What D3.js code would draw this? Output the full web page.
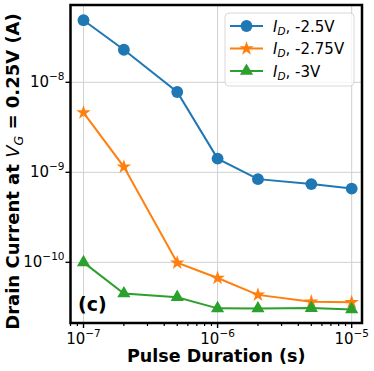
<!DOCTYPE html>
<html>
<head>
<meta charset="utf-8">
<script src="https://cdn.jsdelivr.net/npm/d3@7"></script>
<style>
  body { margin: 0; background: #fff; }
  text { font-family: "DejaVu Sans", sans-serif; }
</style>
</head>
<body>
<svg id="chart" width="374" height="371"></svg>
<script>
  // pulse durations (s)
  var durations = [1e-7, 2e-7, 5e-7, 1e-6, 2e-6, 5e-6, 1e-5];
  // drain current (A) for each gate pulse amplitude
  var id25 = [4.9e-8, 2.3e-8, 7.8e-9, 1.42e-9, 8.4e-10, 7.4e-10, 6.6e-10];
  var id275 = [4.6e-9, 1.15e-9, 9.9e-11, 6.7e-11, 4.35e-11, 3.65e-11, 3.6e-11];
  var id3 = [1.0e-10, 4.5e-11, 4.1e-11, 3.08e-11, 3.07e-11, 3.1e-11, 3.0e-11];
  var seriesNames = ['-2.5V', '-2.75V', '-3V'];
  var xTickExps = [-7, -6, -5];
  var yTickExps = [-8, -9, -10];

(function () {
  'use strict';

  var svg = d3.select('#chart');
  var left = 70.5, right = 362, top = 5, bottom = 323;

  var x = d3.scaleLog()
    .domain([Math.pow(10, -7.097), Math.pow(10, -4.923)])
    .range([left, right]);
  var y = d3.scaleLog()
    .domain([Math.pow(10, -10.674), Math.pow(10, -7.141)])
    .range([bottom, top]);

  var colors = ['#1f77b4', '#ff7f0e', '#2ca02c'];
  var series = [id25, id275, id3];
  var symbols = [
    d3.symbol().type(d3.symbolCircle).size(110),
    d3.symbol().type(d3.symbolStar).size(65),
    d3.symbol().type(d3.symbolTriangle).size(75)
  ];

  // grid
  var grid = svg.append('g');
  xTickExps.forEach(function (e) {
    grid.append('line')
      .attr('x1', x(Math.pow(10, e))).attr('x2', x(Math.pow(10, e)))
      .attr('y1', top).attr('y2', bottom)
      .attr('stroke', '#d0d0d0').attr('stroke-width', 1);
  });
  yTickExps.forEach(function (e) {
    grid.append('line')
      .attr('x1', left).attr('x2', right)
      .attr('y1', y(Math.pow(10, e))).attr('y2', y(Math.pow(10, e)))
      .attr('stroke', '#d0d0d0').attr('stroke-width', 1);
  });

  // x minor ticks
  var minor = [];
  [-8, -7, -6, -5].forEach(function (e) {
    for (var k = 2; k <= 9; k++) minor.push(k * Math.pow(10, e));
  });
  minor = minor.filter(function (v) { return v >= x.domain()[0] && v <= x.domain()[1]; });
  svg.append('g').selectAll('line').data(minor).enter().append('line')
    .attr('x1', function (d) { return x(d); }).attr('x2', function (d) { return x(d); })
    .attr('y1', bottom).attr('y2', bottom + 3)
    .attr('stroke', '#000').attr('stroke-width', 1.2);

  // major ticks + labels
  xTickExps.forEach(function (e) {
    var px = x(Math.pow(10, e));
    svg.append('line').attr('x1', px).attr('x2', px).attr('y1', bottom).attr('y2', bottom + 5)
      .attr('stroke', '#000').attr('stroke-width', 1.4);
    var t = svg.append('text').attr('x', px).attr('y', bottom + 21)
      .attr('text-anchor', 'middle').attr('font-size', 15);
    t.append('tspan').text('10');
    t.append('tspan').attr('dy', -7).attr('font-size', 10.5).text('\u2212' + (-e));
  });
  yTickExps.forEach(function (e) {
    var py = y(Math.pow(10, e));
    svg.append('line').attr('x1', left - 5).attr('x2', left).attr('y1', py).attr('y2', py)
      .attr('stroke', '#000').attr('stroke-width', 1.4);
    var t = svg.append('text').attr('x', left - 6).attr('y', py + 5)
      .attr('text-anchor', 'end').attr('font-size', 15);
    t.append('tspan').text('10');
    t.append('tspan').attr('dy', -7).attr('font-size', 10.5).text('\u2212' + (-e));
  });

  // lines and markers
  var line = d3.line()
    .x(function (d, i) { return x(durations[i]); })
    .y(function (d) { return y(d); });
  series.forEach(function (s, si) {
    svg.append('path').datum(s).attr('d', line)
      .attr('fill', 'none').attr('stroke', colors[si]).attr('stroke-width', 2);
    svg.append('g').selectAll('path').data(s).enter().append('path')
      .attr('d', symbols[si])
      .attr('transform', function (d, i) { return 'translate(' + x(durations[i]) + ',' + y(d) + ')'; })
      .attr('fill', colors[si]);
  });

  // frame
  svg.append('rect').attr('x', left).attr('y', top)
    .attr('width', right - left).attr('height', bottom - top)
    .attr('fill', 'none').attr('stroke', '#000').attr('stroke-width', 2.5);

  // panel label
  svg.append('text').attr('x', 78).attr('y', 311)
    .attr('font-size', 19).attr('font-weight', 'bold').text('(c)');

  // legend
  var lg = svg.append('g');
  lg.append('rect').attr('x', 225).attr('y', 13).attr('width', 129).attr('height', 73)
    .attr('rx', 4).attr('fill', '#fff').attr('fill-opacity', 0.8)
    .attr('stroke', '#d8d8d8').attr('stroke-width', 1);
  seriesNames.forEach(function (name, i) {
    var ly = 26 + i * 22.5;
    lg.append('line').attr('x1', 230).attr('x2', 263).attr('y1', ly).attr('y2', ly)
      .attr('stroke', colors[i]).attr('stroke-width', 2);
    lg.append('path').attr('d', symbols[i])
      .attr('transform', 'translate(246.5,' + ly + ')').attr('fill', colors[i]);
    var t = lg.append('text').attr('x', 273).attr('y', ly + 5.5).attr('font-size', 15);
    t.append('tspan').attr('font-style', 'italic').text('I');
    t.append('tspan').attr('font-style', 'italic').attr('font-size', 10.5).attr('dy', 3).text('D');
    t.append('tspan').attr('dy', -3).text(', ' + name);
  });

  // axis labels
  svg.append('text').attr('x', (left + right) / 2).attr('y', 362)
    .attr('text-anchor', 'middle').attr('font-size', 17.5).attr('font-weight', 'bold')
    .text('Pulse Duration (s)');
  var yl = svg.append('text')
    .attr('transform', 'translate(19,171.5) rotate(-90)')
    .attr('text-anchor', 'middle').attr('font-size', 18).attr('font-weight', 'bold');
  yl.append('tspan').text('Drain Current at ');
  yl.append('tspan').attr('font-weight', 'normal').attr('font-style', 'italic').text('V');
  yl.append('tspan').attr('font-weight', 'normal').attr('font-style', 'italic')
    .attr('font-size', 12.5).attr('dy', 3.5).text('G');
  yl.append('tspan').attr('dy', -3.5).text(' = 0.25V (A)');
})();
</script>
</body>
</html>
